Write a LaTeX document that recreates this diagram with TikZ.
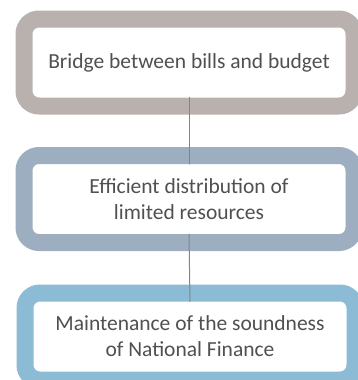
\documentclass[tikz,border=0pt]{standalone}
\usepackage{fontspec}
\setmainfont{Carlito}
\usetikzlibrary{positioning}
\definecolor{frameone}{HTML}{B9B1AE}
\definecolor{frametwo}{HTML}{9DAEC1}
\definecolor{framethree}{HTML}{8CBBD5}
\definecolor{textgray}{HTML}{505050}
\definecolor{linkgray}{HTML}{8A8281}
\begin{document}
\begin{tikzpicture}[x=1pt,y=-1pt,line cap=round]
  \tikzset{
    stage/.style={draw, line width=17pt, fill=white, rounded corners=15pt,
      minimum width=330pt, minimum height=87pt, inner sep=0pt, outer sep=-8.5pt,
      align=center, text=textgray, font=\fontsize{21.5}{26}\selectfont},
    link/.style={draw=linkgray, line width=1pt}
  }
  \useasboundingbox (0,0) rectangle (357,380);

  % Stages, top to bottom
  \node[stage, draw=frameone] (bridge) at (189,62.5) {Bridge between bills and budget};
  \node[stage, draw=frametwo] (distribution) at (189,199) {Efficient distribution of\\limited resources};
  \node[stage, draw=framethree] (soundness) at (190,336.5) {Maintenance of the soundness\\of National Finance};

  % Connectors
  \draw[link] (bridge.south) -- (distribution.north);
  \draw[link] (distribution.south) -- (soundness.north);
\end{tikzpicture}
\end{document}
